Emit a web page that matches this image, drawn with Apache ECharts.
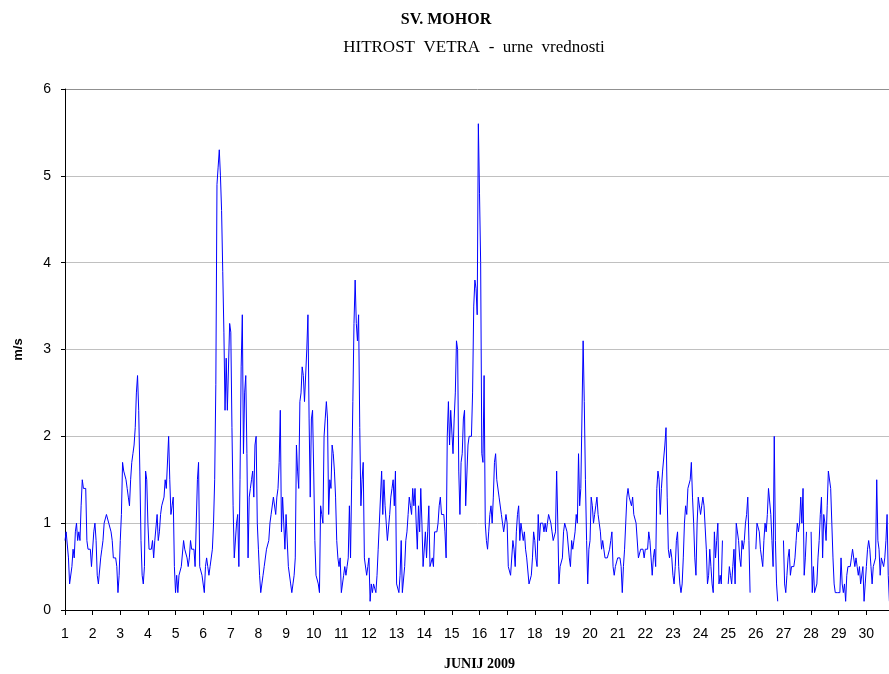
<!DOCTYPE html>
<html>
<head>
<meta charset="utf-8">
<script src="https://cdn.jsdelivr.net/npm/echarts@6/dist/echarts.min.js"></script>
<style>
  html, body { margin: 0; padding: 0; background: #fff; }
  #chart { width: 889px; height: 674px; }
</style>
</head>
<body>
<div id="chart"></div>
<script>
// urne vrednosti hitrosti vetra (m/s), 24 na dan, null = ni podatka
const dekada1 = [
  0.8,0.9,0.9,0.6,0.3,0.3,0.5,0.7,0.6,0.9,1.0,0.8,0.9,0.8,1.2,1.5,1.4,1.4,1.4,0.8,0.7,0.7,0.7,0.5, // 1
  0.5,0.9,1.0,0.8,0.4,0.3,0.3,0.6,0.7,0.8,1.0,1.0,1.1,1.1,1.0,1.0,0.9,0.8,0.6,0.6,0.6,0.5,0.2,0.4, // 2
  0.8,1.1,1.7,1.6,1.6,1.5,1.4,1.3,1.2,1.5,1.7,1.8,1.9,2.1,2.5,2.7,2.3,1.6,0.8,0.4,0.3,0.5,1.6,1.5, // 3
  1.0,0.7,0.7,0.7,0.8,0.6,0.8,0.8,1.1,0.8,0.9,1.1,1.2,1.2,1.3,1.5,1.4,1.4,2.0,1.5,1.1,1.2,1.3,0.5, // 4
  0.2,0.4,0.2,0.4,0.4,0.5,0.5,0.8,0.7,0.7,0.6,0.5,0.6,0.8,0.7,0.7,0.7,0.5,1.0,1.5,1.7,0.5,0.5,0.4, // 5
  0.4,0.2,0.5,0.6,0.5,0.4,0.5,0.5,0.7,1.0,1.5,2.6,4.9,5.1,5.3,5.0,4.6,3.9,3.2,2.3,2.9,2.3,2.3,3.3, // 6
  3.2,2.1,1.2,0.6,0.6,1.0,1.1,0.5,1.5,2.8,3.4,1.8,2.5,2.7,1.8,0.6,1.3,1.4,1.5,1.6,1.3,1.9,2.0,1.0, // 7
  0.7,0.4,0.2,0.3,0.4,0.5,0.5,0.7,0.7,0.8,1.0,1.1,1.1,1.3,1.3,1.1,1.3,1.4,1.7,2.3,0.9,1.3,1.0,0.7, // 8
  1.1,1.1,0.5,0.5,0.3,0.2,0.3,0.4,0.6,1.9,1.6,1.4,2.4,2.5,2.8,2.7,2.4,2.4,3.0,3.4,2.2,1.3,2.2,2.3, // 9
  1.6,0.8,0.4,0.4,0.3,0.2,1.2,1.1,1.0,2.0,2.2,2.4,2.2,1.1,1.5,1.4,1.9,1.8,1.6,1.3,0.8,0.6,0.5,0.6  // 10
];
const dekada2 = [
  0.2,0.2,0.4,0.5,0.4,0.5,0.6,1.2,0.6,1.5,2.4,3.3,3.8,3.3,3.1,3.4,2.1,1.2,1.5,1.7,0.6,0.6,0.4,0.5, // 11
  0.6,0.1,0.3,0.2,0.3,0.3,0.2,0.4,0.7,1.0,1.0,1.6,1.1,1.5,1.2,1.0,0.8,0.8,1.1,1.3,1.4,1.5,1.2,1.6, // 12
  0.3,0.3,0.2,0.4,0.8,0.2,0.2,0.5,0.8,0.9,1.1,1.3,1.2,1.1,1.4,1.2,1.4,1.0,0.7,1.2,0.9,1.4,1.0,0.5, // 13
  0.5,0.9,0.6,0.9,1.2,0.5,0.5,0.6,0.5,0.9,0.9,0.9,1.0,1.2,1.3,1.1,1.1,1.1,0.9,0.6,2.0,2.4,1.9,2.3, // 14
  2.3,1.8,2.2,2.5,3.1,3.0,1.6,1.1,1.7,1.8,2.2,2.3,1.2,1.2,1.9,2.0,2.0,2.0,2.5,3.5,3.8,3.7,3.4,5.6, // 15
  4.8,4.0,1.8,1.7,2.7,1.0,0.8,0.7,0.9,1.1,1.2,1.0,1.3,1.7,1.8,1.5,1.5,1.3,1.3,1.1,1.0,0.9,1.0,1.1, // 16
  1.0,0.5,0.5,0.4,0.4,0.8,0.7,0.5,0.9,1.1,1.2,0.8,1.0,1.0,0.8,0.9,0.7,0.6,0.6,0.3,0.3,0.4,0.6,0.9, // 17
  0.8,0.6,0.5,1.1,0.8,1.0,1.0,1.0,0.9,1.0,0.9,1.0,1.1,1.1,1.0,0.9,0.8,0.8,0.9,1.6,1.0,0.3,0.5,0.5, // 18
  0.6,0.9,1.0,1.0,0.9,0.9,0.6,0.5,0.8,0.7,0.8,0.9,1.1,1.0,1.8,1.2,1.4,1.4,3.1,2.4,1.5,0.8,0.3,0.7, // 19
  0.8,1.3,1.2,1.0,1.1,1.2,1.3,1.1,1.0,0.9,0.7,0.8,0.7,0.6,0.6,0.6,0.6,0.7,0.8,0.9,0.5,0.4,0.5,0.5  // 20
];
const dekada3 = [
  0.6,0.6,0.6,0.5,0.2,0.5,0.7,1.0,1.3,1.4,1.3,1.3,1.2,1.3,1.1,1.1,1.0,1.0,0.6,0.6,0.7,0.7,0.7,0.6, // 21
  0.7,0.7,0.7,0.9,0.8,0.6,0.4,0.6,0.7,0.5,1.4,1.6,1.5,1.1,1.4,1.6,1.6,1.9,2.1,1.3,0.7,0.6,0.7,0.6, // 22
  0.4,0.3,0.5,0.8,0.9,0.5,0.3,0.2,0.3,0.6,1.0,1.2,1.1,1.4,1.4,1.5,1.7,1.3,1.0,0.6,0.4,1.0,1.3,1.3, // 23
  1.1,1.2,1.3,1.2,1.2,0.7,0.3,0.4,0.7,0.5,0.3,0.2,0.9,0.6,0.8,1.0,0.3,0.4,0.3,0.8,null,null,null,null, // 24
  0.3,0.5,0.4,0.3,0.5,0.7,0.3,1.0,1.0,0.8,0.6,0.5,0.8,0.7,0.8,1.0,1.1,1.3,0.8,0.2,null,null,null,null, // 25
  0.7,1.0,1.0,0.9,0.7,0.6,0.5,0.8,1.0,0.9,1.1,1.4,1.4,1.1,0.8,0.5,2.0,0.8,0.3,0.1,null,null,null,null, // 26
  0.8,0.3,0.2,0.4,0.6,0.7,0.4,0.5,0.5,0.5,0.6,0.8,1.0,0.9,1.0,1.3,1.0,1.4,0.4,0.6,0.9,null,null,null, // 27
  0.9,0.2,0.5,0.2,0.2,0.3,0.6,0.8,1.1,1.3,0.6,1.1,1.0,0.8,1.2,1.6,1.6,1.4,1.0,0.6,0.3,0.2,0.2,0.2, // 28
  0.2,0.2,0.6,0.3,0.2,0.3,0.1,0.4,0.5,0.5,0.5,0.6,0.7,0.7,0.5,0.6,0.5,0.4,0.5,0.3,0.3,0.5,0.1,0.3, // 29
  0.5,0.7,0.8,0.7,0.5,0.3,0.5,0.5,0.6,1.5,0.8,0.7,0.4,0.6,0.6,0.5,0.6,0.8,1.1,0.4,0.1             // 30
];
const dni = [1,2,3,4,5,6,7,8,9,10,11,12,13,14,15,16,17,18,19,20,21,22,23,24,25,26,27,28,29,30];
const yTicks = [0, 6, 1]; // min, max, korak

const hitrost = dekada1.concat(dekada2, dekada3);
const tocke = hitrost.map((v, i) => [dni[0] + i / 24, v == null ? '-' : v]);

const chart = echarts.init(document.getElementById('chart'));
chart.setOption({
  animation: false,
  backgroundColor: '#fff',
  graphic: [
    {
      type: 'text', x: 446, y: 20,
      style: {
        text: 'SV. MOHOR', textAlign: 'center', textVerticalAlign: 'middle',
        font: 'bold 16px "Liberation Serif"', fill: '#000'
      }
    },
    {
      type: 'text', x: 474, y: 48,
      style: {
        text: 'HITROST  VETRA  -  urne  vrednosti', textAlign: 'center', textVerticalAlign: 'middle',
        font: '17px "Liberation Serif"', fill: '#000'
      }
    }
  ],
  grid: {
    left: 65,
    right: -5,
    top: 89,
    bottom: 64,
    outerBoundsMode: 'none'
  },
  xAxis: {
    type: 'value',
    min: 1,
    max: 31,
    interval: 1,
    name: 'JUNIJ 2009',
    nameLocation: 'middle',
    nameGap: 47,
    nameTextStyle: { fontFamily: 'Liberation Serif', fontWeight: 'bold', fontSize: 14, color: '#000' },
    axisLine: { onZero: false, lineStyle: { color: '#000', width: 1 } },
    axisTick: { show: true, length: 5, lineStyle: { color: '#000' } },
    axisLabel: {
      fontFamily: 'Liberation Sans', fontSize: 14, color: '#000', margin: 17,
      formatter: v => (dni.indexOf(v) >= 0 ? String(v) : '')
    },
    splitLine: { show: false }
  },
  yAxis: {
    type: 'value',
    min: yTicks[0],
    max: yTicks[1],
    interval: yTicks[2],
    name: 'm/s',
    nameLocation: 'middle',
    nameGap: 40,
    nameTextStyle: { fontFamily: 'Liberation Sans', fontWeight: 'bold', fontSize: 13, color: '#000' },
    axisLine: { show: true, lineStyle: { color: '#000', width: 1 } },
    axisTick: { show: true, length: 4, lineStyle: { color: '#000' } },
    axisLabel: { fontFamily: 'Liberation Sans', fontSize: 14, color: '#000', margin: 14 },
    splitLine: {
      show: true,
      lineStyle: { color: ['#c0c0c0', '#c0c0c0', '#c0c0c0', '#c0c0c0', '#c0c0c0', '#c0c0c0', '#909090'], width: 1 }
    }
  },
  series: [
    {
      name: 'hitrost vetra',
      type: 'line',
      data: tocke,
      showSymbol: false,
      symbol: 'none',
      connectNulls: false,
      lineStyle: { color: '#0000ff', width: 1 }
    }
  ]
});
</script>
</body>
</html>
